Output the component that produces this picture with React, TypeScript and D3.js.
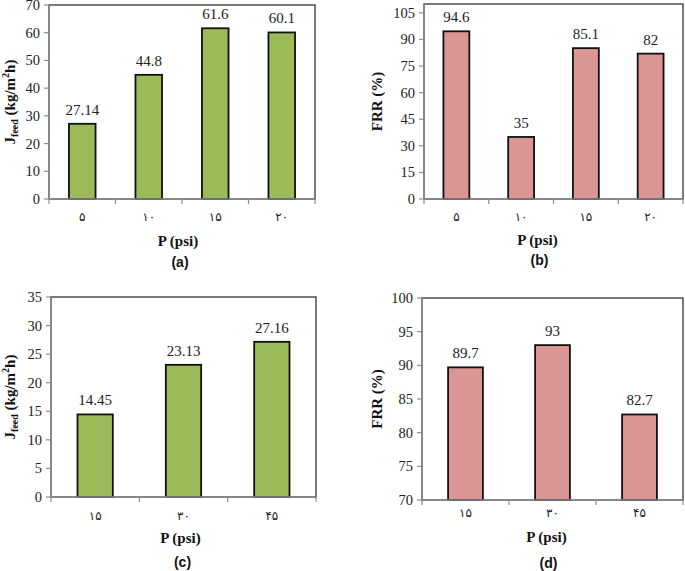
import React from 'react';
import * as d3 from 'd3';

// Chart data
const pressuresAB = ['۵', '۱۰', '۱۵', '۲۰'];
const pressuresCD = ['۱۵', '۳۰', '۴۵'];
const fluxA = [27.14, 44.8, 61.6, 60.1];
const frrB = [94.6, 35, 85.1, 82];
const fluxC = [14.45, 23.13, 27.16];
const frrD = [89.7, 93, 82.7];
const ticksA = [0, 10, 20, 30, 40, 50, 60, 70];
const ticksB = [0, 15, 30, 45, 60, 75, 90, 105];
const ticksC = [0, 5, 10, 15, 20, 25, 30, 35];
const ticksD = [70, 75, 80, 85, 90, 95, 100];

const GREEN = '#9bbb59';
const PINK = '#d99694';
const AXIS_GRAY = '#8c8c8c';
const SERIF = '"Liberation Serif", "Times New Roman", "DejaVu Serif", serif';
const DIGITS = '"DejaVu Sans", "Liberation Serif", sans-serif';

interface PanelProps {
  cats: string[];
  values: number[];
  ticks: number[];
  domain: [number, number];
  box: { left: number; right: number; top: number; bottom: number };
  color: string;
  yTitle: 'flux' | 'frr';
  yTitleX: number;
  letter: string;
  catDy: number;
  xTitleDy: number;
  letterDy: number;
  titleShift: number;
}

const Panel = ({ cats, values, ticks, domain, box, color, yTitle, yTitleX, letter, catDy, xTitleDy, letterDy, titleShift }: PanelProps) => {
  const x = d3.scaleBand<string>()
    .domain(cats)
    .range([box.left, box.right])
    .paddingInner(0.6)
    .paddingOuter(0.3);
  const y = d3.scaleLinear().domain(domain).range([box.bottom, box.top]);
  const step = (box.right - box.left) / cats.length;
  const edges = d3.range(cats.length + 1).map(i => box.left + i * step);
  const midX = (box.left + box.right) / 2 - titleShift;
  const midY = (box.top + box.bottom) / 2;

  return (
    <g>
      {/* plot frame */}
      <rect x={box.left} y={box.top} width={box.right - box.left} height={box.bottom - box.top}
        fill="#fff" stroke="#222" strokeWidth={1.2} />
      {/* bars */}
      {values.map((v, i) => (
        <rect key={i} x={x(cats[i])} y={y(v)} width={x.bandwidth()} height={y(domain[0]) - y(v)}
          fill={color} stroke="#111" strokeWidth={1.8} />
      ))}
      {/* value labels */}
      {values.map((v, i) => (
        <text key={'l' + i} x={(x(cats[i]) as number) + x.bandwidth() / 2} y={y(v) - 9}
          textAnchor="middle" fontFamily={SERIF} fontSize={15} fill="#222">{String(v)}</text>
      ))}
      {/* axes */}
      <line x1={box.left} x2={box.left} y1={box.top} y2={box.bottom} stroke={AXIS_GRAY} strokeWidth={1.5} />
      <line x1={box.left} x2={box.right} y1={box.bottom} y2={box.bottom} stroke={AXIS_GRAY} strokeWidth={1.5} />
      {ticks.map(t => (
        <g key={'t' + t}>
          <line x1={box.left - 5} x2={box.left} y1={y(t)} y2={y(t)} stroke={AXIS_GRAY} strokeWidth={1.2} />
          <text x={box.left - 9} y={y(t) + 5} textAnchor="end" fontFamily={SERIF} fontSize={14.5} fill="#222">{t}</text>
        </g>
      ))}
      {edges.map((e, i) => (
        <line key={'e' + i} x1={e} x2={e} y1={box.bottom} y2={box.bottom + 5} stroke={AXIS_GRAY} strokeWidth={1.2} />
      ))}
      {cats.map(c => (
        <text key={c} x={(x(c) as number) + x.bandwidth() / 2} y={box.bottom + catDy + 5}
          textAnchor="middle" fontFamily={DIGITS} fontSize={12} fill="#222">{c}</text>
      ))}
      {/* axis titles */}
      <text x={midX} y={box.bottom + xTitleDy + 5} textAnchor="middle" fontFamily={SERIF}
        fontWeight="bold" fontSize={15} fill="#111">P (psi)</text>
      <text transform={`translate(${yTitleX},${midY}) rotate(-90)`} textAnchor="middle" dy={5}
        fontFamily={SERIF} fontWeight="bold" fontSize={15} fill="#111">
        {yTitle === 'flux' ? (
          <>
            <tspan>J</tspan>
            <tspan fontSize={10} dy={3}>feed</tspan>
            <tspan dy={-3}> (kg/m</tspan>
            <tspan fontSize={10} dy={-6}>2</tspan>
            <tspan dy={6}>h)</tspan>
          </>
        ) : 'FRR (%)'}
      </text>
      <text x={midX + 2} y={box.bottom + letterDy + 5} textAnchor="middle"
        fontFamily='"Liberation Sans", Arial, sans-serif' fontWeight="bold" fontSize={14} fill="#111">{letter}</text>
    </g>
  );
};

const App = () => {
  return (
    <svg width={685} height={571} style={{ position: 'absolute', left: 0, top: 0, background: '#fff' }}>
      <Panel cats={pressuresAB} values={fluxA} ticks={ticksA} domain={[0, 70]}
        box={{ left: 49, right: 315, top: 5, bottom: 199 }} color={GREEN} yTitle="flux" yTitleX={10}
        letter="(a)" catDy={17} xTitleDy={42} letterDy={63} titleShift={4} />
      <Panel cats={pressuresAB} values={frrB} ticks={ticksB} domain={[0, 110]}
        box={{ left: 424, right: 683, top: 4, bottom: 199 }} color={PINK} yTitle="frr" yTitleX={377}
        letter="(b)" catDy={17} xTitleDy={41} letterDy={61} titleShift={16} />
      <Panel cats={pressuresCD} values={fluxC} ticks={ticksC} domain={[0, 35]}
        box={{ left: 51, right: 316, top: 297, bottom: 497 }} color={GREEN} yTitle="flux" yTitleX={10}
        letter="(c)" catDy={18} xTitleDy={41} letterDy={65} titleShift={3} />
      <Panel cats={pressuresCD} values={frrD} ticks={ticksD} domain={[70, 100]}
        box={{ left: 422, right: 683, top: 298, bottom: 500 }} color={PINK} yTitle="frr" yTitleX={377}
        letter="(d)" catDy={12} xTitleDy={37} letterDy={63} titleShift={6} />
    </svg>
  );
};

export default App;
